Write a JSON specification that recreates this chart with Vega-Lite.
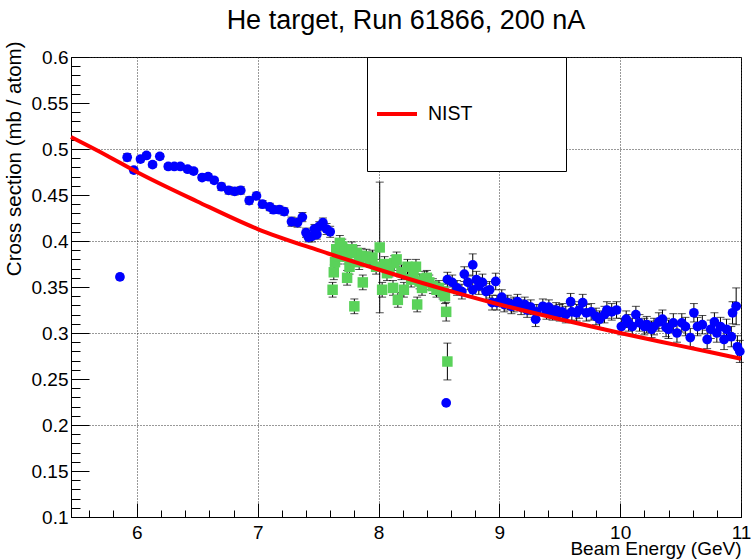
{
  "$schema": "https://vega.github.io/schema/vega-lite/v6.json",
  "width": 670,
  "height": 460,
  "autosize": {"type": "none"},
  "padding": {"left": 71, "top": 57, "right": 10, "bottom": 42},
  "background": "white",
  "config": {
    "font": "Liberation Sans",
    "view": {"stroke": "black", "strokeWidth": 1}
  },
  "title": {
    "text": "He target, Run 61866, 200 nA",
    "font": "Liberation Sans",
    "fontSize": 27,
    "fontWeight": "normal",
    "color": "black",
    "frame": "group",
    "anchor": "middle",
    "baseline": "alphabetic",
    "offset": 10,
    "dy": 25
  },
  "datasets": {
    "blue": [
      {"E": 5.86, "v": 0.361, "e": 0.003}, {"E": 5.92, "v": 0.491, "e": 0.004}, {"E": 5.975, "v": 0.477, "e": 0.003},
      {"E": 6.03, "v": 0.489, "e": 0.003}, {"E": 6.08, "v": 0.493, "e": 0.003}, {"E": 6.13, "v": 0.483, "e": 0.003},
      {"E": 6.19, "v": 0.492, "e": 0.003}, {"E": 6.26, "v": 0.481, "e": 0.003}, {"E": 6.31, "v": 0.481, "e": 0.003},
      {"E": 6.36, "v": 0.481, "e": 0.003}, {"E": 6.42, "v": 0.478, "e": 0.003}, {"E": 6.47, "v": 0.476, "e": 0.003},
      {"E": 6.54, "v": 0.469, "e": 0.003}, {"E": 6.59, "v": 0.470, "e": 0.003}, {"E": 6.64, "v": 0.466, "e": 0.003},
      {"E": 6.70, "v": 0.459, "e": 0.004}, {"E": 6.76, "v": 0.455, "e": 0.004}, {"E": 6.81, "v": 0.454, "e": 0.004},
      {"E": 6.86, "v": 0.455, "e": 0.004}, {"E": 6.93, "v": 0.444, "e": 0.004}, {"E": 6.99, "v": 0.449, "e": 0.004},
      {"E": 7.04, "v": 0.440, "e": 0.004}, {"E": 7.10, "v": 0.437, "e": 0.004}, {"E": 7.13, "v": 0.434, "e": 0.004},
      {"E": 7.18, "v": 0.434, "e": 0.004}, {"E": 7.22, "v": 0.432, "e": 0.004}, {"E": 7.28, "v": 0.421, "e": 0.005},
      {"E": 7.33, "v": 0.420, "e": 0.005}, {"E": 7.37, "v": 0.426, "e": 0.005}, {"E": 7.40, "v": 0.409, "e": 0.005},
      {"E": 7.42, "v": 0.404, "e": 0.005}, {"E": 7.45, "v": 0.405, "e": 0.006}, {"E": 7.47, "v": 0.413, "e": 0.005},
      {"E": 7.49, "v": 0.407, "e": 0.005}, {"E": 7.51, "v": 0.416, "e": 0.005}, {"E": 7.54, "v": 0.420, "e": 0.005},
      {"E": 7.57, "v": 0.413, "e": 0.006}, {"E": 7.60, "v": 0.410, "e": 0.006},
      {"E": 8.56, "v": 0.224, "e": 0.002},
      {"E": 8.57, "v": 0.358, "e": 0.008}, {"E": 8.61, "v": 0.355, "e": 0.008}, {"E": 8.65, "v": 0.349, "e": 0.008},
      {"E": 8.69, "v": 0.345, "e": 0.008}, {"E": 8.71, "v": 0.364, "e": 0.008}, {"E": 8.74, "v": 0.355, "e": 0.008},
      {"E": 8.78, "v": 0.374, "e": 0.012}, {"E": 8.78, "v": 0.347, "e": 0.008}, {"E": 8.81, "v": 0.358, "e": 0.009},
      {"E": 8.83, "v": 0.351, "e": 0.009}, {"E": 8.86, "v": 0.355, "e": 0.009}, {"E": 8.89, "v": 0.345, "e": 0.009},
      {"E": 8.92, "v": 0.347, "e": 0.009}, {"E": 8.94, "v": 0.333, "e": 0.008}, {"E": 8.97, "v": 0.356, "e": 0.009},
      {"E": 8.98, "v": 0.333, "e": 0.008}, {"E": 9.02, "v": 0.339, "e": 0.008}, {"E": 9.04, "v": 0.331, "e": 0.008},
      {"E": 9.07, "v": 0.333, "e": 0.008}, {"E": 9.10, "v": 0.329, "e": 0.008}, {"E": 9.12, "v": 0.331, "e": 0.008},
      {"E": 9.15, "v": 0.334, "e": 0.008}, {"E": 9.18, "v": 0.328, "e": 0.008}, {"E": 9.21, "v": 0.331, "e": 0.008},
      {"E": 9.23, "v": 0.325, "e": 0.008}, {"E": 9.26, "v": 0.328, "e": 0.008}, {"E": 9.30, "v": 0.315, "e": 0.008},
      {"E": 9.31, "v": 0.323, "e": 0.008}, {"E": 9.36, "v": 0.329, "e": 0.008}, {"E": 9.39, "v": 0.323, "e": 0.008},
      {"E": 9.41, "v": 0.328, "e": 0.008}, {"E": 9.44, "v": 0.322, "e": 0.008}, {"E": 9.47, "v": 0.325, "e": 0.008},
      {"E": 9.50, "v": 0.322, "e": 0.009}, {"E": 9.52, "v": 0.323, "e": 0.009}, {"E": 9.55, "v": 0.320, "e": 0.009},
      {"E": 9.59, "v": 0.334, "e": 0.009}, {"E": 9.60, "v": 0.323, "e": 0.009}, {"E": 9.64, "v": 0.322, "e": 0.009},
      {"E": 9.66, "v": 0.325, "e": 0.009}, {"E": 9.69, "v": 0.333, "e": 0.009}, {"E": 9.72, "v": 0.322, "e": 0.009},
      {"E": 9.76, "v": 0.323, "e": 0.009}, {"E": 9.80, "v": 0.318, "e": 0.009}, {"E": 9.83, "v": 0.315, "e": 0.009},
      {"E": 9.87, "v": 0.320, "e": 0.009}, {"E": 9.89, "v": 0.325, "e": 0.009}, {"E": 9.93, "v": 0.323, "e": 0.009},
      {"E": 9.97, "v": 0.325, "e": 0.009}, {"E": 10.01, "v": 0.307, "e": 0.009}, {"E": 10.05, "v": 0.315, "e": 0.009},
      {"E": 10.07, "v": 0.311, "e": 0.009}, {"E": 10.10, "v": 0.307, "e": 0.009}, {"E": 10.13, "v": 0.320, "e": 0.009},
      {"E": 10.16, "v": 0.311, "e": 0.009}, {"E": 10.20, "v": 0.307, "e": 0.009}, {"E": 10.22, "v": 0.309, "e": 0.009},
      {"E": 10.26, "v": 0.304, "e": 0.009}, {"E": 10.28, "v": 0.307, "e": 0.009}, {"E": 10.32, "v": 0.312, "e": 0.010},
      {"E": 10.35, "v": 0.315, "e": 0.010}, {"E": 10.38, "v": 0.306, "e": 0.010}, {"E": 10.40, "v": 0.304, "e": 0.010},
      {"E": 10.44, "v": 0.311, "e": 0.010}, {"E": 10.47, "v": 0.300, "e": 0.010}, {"E": 10.51, "v": 0.311, "e": 0.010},
      {"E": 10.54, "v": 0.307, "e": 0.010}, {"E": 10.58, "v": 0.295, "e": 0.010}, {"E": 10.61, "v": 0.322, "e": 0.010},
      {"E": 10.64, "v": 0.307, "e": 0.010}, {"E": 10.68, "v": 0.309, "e": 0.010}, {"E": 10.72, "v": 0.293, "e": 0.010},
      {"E": 10.75, "v": 0.304, "e": 0.010}, {"E": 10.78, "v": 0.312, "e": 0.010}, {"E": 10.80, "v": 0.300, "e": 0.010},
      {"E": 10.83, "v": 0.307, "e": 0.010}, {"E": 10.86, "v": 0.293, "e": 0.011}, {"E": 10.88, "v": 0.304, "e": 0.011},
      {"E": 10.92, "v": 0.296, "e": 0.011}, {"E": 10.93, "v": 0.322, "e": 0.012}, {"E": 10.96, "v": 0.329, "e": 0.020},
      {"E": 10.97, "v": 0.285, "e": 0.012}, {"E": 10.99, "v": 0.280, "e": 0.012}
    ],
    "green": [
      {"E": 7.62, "v": 0.347, "e": 0.008}, {"E": 7.63, "v": 0.366, "e": 0.008}, {"E": 7.64, "v": 0.377, "e": 0.008},
      {"E": 7.65, "v": 0.391, "e": 0.008}, {"E": 7.67, "v": 0.383, "e": 0.008}, {"E": 7.68, "v": 0.398, "e": 0.008},
      {"E": 7.70, "v": 0.394, "e": 0.008}, {"E": 7.72, "v": 0.388, "e": 0.008}, {"E": 7.74, "v": 0.383, "e": 0.008},
      {"E": 7.74, "v": 0.360, "e": 0.008}, {"E": 7.76, "v": 0.372, "e": 0.008}, {"E": 7.78, "v": 0.391, "e": 0.008},
      {"E": 7.80, "v": 0.329, "e": 0.008}, {"E": 7.82, "v": 0.387, "e": 0.008}, {"E": 7.84, "v": 0.377, "e": 0.008},
      {"E": 7.86, "v": 0.384, "e": 0.008}, {"E": 7.87, "v": 0.355, "e": 0.008}, {"E": 7.90, "v": 0.383, "e": 0.008},
      {"E": 7.93, "v": 0.380, "e": 0.008}, {"E": 7.95, "v": 0.382, "e": 0.008}, {"E": 7.98, "v": 0.372, "e": 0.008},
      {"E": 8.01, "v": 0.393, "e": 0.071}, {"E": 8.03, "v": 0.347, "e": 0.008}, {"E": 8.05, "v": 0.375, "e": 0.008},
      {"E": 8.07, "v": 0.365, "e": 0.008}, {"E": 8.09, "v": 0.369, "e": 0.008}, {"E": 8.12, "v": 0.349, "e": 0.008},
      {"E": 8.13, "v": 0.376, "e": 0.008}, {"E": 8.15, "v": 0.380, "e": 0.008}, {"E": 8.16, "v": 0.336, "e": 0.008},
      {"E": 8.19, "v": 0.366, "e": 0.008}, {"E": 8.21, "v": 0.347, "e": 0.008}, {"E": 8.24, "v": 0.372, "e": 0.008},
      {"E": 8.27, "v": 0.358, "e": 0.008}, {"E": 8.29, "v": 0.364, "e": 0.008}, {"E": 8.31, "v": 0.372, "e": 0.008},
      {"E": 8.32, "v": 0.331, "e": 0.008}, {"E": 8.34, "v": 0.356, "e": 0.008}, {"E": 8.36, "v": 0.349, "e": 0.008},
      {"E": 8.38, "v": 0.359, "e": 0.008}, {"E": 8.40, "v": 0.360, "e": 0.008}, {"E": 8.42, "v": 0.355, "e": 0.008},
      {"E": 8.45, "v": 0.351, "e": 0.008}, {"E": 8.48, "v": 0.347, "e": 0.008}, {"E": 8.50, "v": 0.349, "e": 0.008},
      {"E": 8.53, "v": 0.345, "e": 0.008}, {"E": 8.55, "v": 0.340, "e": 0.008}, {"E": 8.56, "v": 0.323, "e": 0.010},
      {"E": 8.57, "v": 0.269, "e": 0.020}
    ],
    "nist": [
      {"E": 5.455, "v": 0.513, "s": "NIST"}, {"E": 5.75, "v": 0.493, "s": "NIST"}, {"E": 6.0, "v": 0.475, "s": "NIST"},
      {"E": 6.5, "v": 0.443, "s": "NIST"}, {"E": 7.0, "v": 0.413, "s": "NIST"}, {"E": 7.5, "v": 0.390, "s": "NIST"},
      {"E": 8.0, "v": 0.369, "s": "NIST"}, {"E": 8.5, "v": 0.349, "s": "NIST"}, {"E": 9.0, "v": 0.331, "s": "NIST"},
      {"E": 9.5, "v": 0.315, "s": "NIST"}, {"E": 10.0, "v": 0.300, "s": "NIST"}, {"E": 10.5, "v": 0.286, "s": "NIST"},
      {"E": 11.0, "v": 0.272, "s": "NIST"}
    ]
  },
  "encoding": {
    "x": {
      "field": "E",
      "type": "quantitative",
      "scale": {"domain": [5.455, 11], "nice": false, "zero": false},
      "axis": {
        "title": "Beam Energy (GeV)",
        "values": [5.6, 5.8, 6, 6.2, 6.4, 6.6, 6.8, 7, 7.2, 7.4, 7.6, 7.8, 8, 8.2, 8.4, 8.6, 8.8, 9, 9.2, 9.4, 9.6, 9.8, 10, 10.2, 10.4, 10.6, 10.8, 11],
        "labelExpr": "abs(datum.value - round(datum.value)) < 0.001 ? format(round(datum.value), 'd') : ''",
        "tickSize": {"condition": {"test": "abs(datum.value - round(datum.value)) < 0.001", "value": -14}, "value": -7},
        "tickColor": "black",
        "tickWidth": 1,
        "grid": true,
        "gridColor": "#333333",
        "gridDash": [1, 2],
        "gridWidth": 1,
        "gridOpacity": {"condition": {"test": "abs(datum.value - round(datum.value)) < 0.001", "value": 1}, "value": 0},
        "domainColor": "black",
        "labelFont": "Liberation Sans",
        "labelFontSize": 19,
        "labelColor": "black",
        "labelPadding": 20,
        "labelFlush": false,
        "labelOverlap": false,
        "titleFont": "Liberation Sans",
        "titleFontSize": 19,
        "titleFontWeight": "normal",
        "titleColor": "black",
        "titleAnchor": "end",
        "titleAlign": "right",
        "titleBaseline": "alphabetic",
        "titleX": 670,
        "titleY": 37
      }
    },
    "y": {
      "field": "v",
      "type": "quantitative",
      "scale": {"domain": [0.1, 0.6], "nice": false, "zero": false},
      "axis": {
        "title": "Cross section (mb / atom)",
        "values": [0.1, 0.11, 0.12, 0.13, 0.14, 0.15, 0.16, 0.17, 0.18, 0.19, 0.2, 0.21, 0.22, 0.23, 0.24, 0.25, 0.26, 0.27, 0.28, 0.29, 0.3, 0.31, 0.32, 0.33, 0.34, 0.35, 0.36, 0.37, 0.38, 0.39, 0.4, 0.41, 0.42, 0.43, 0.44, 0.45, 0.46, 0.47, 0.48, 0.49, 0.5, 0.51, 0.52, 0.53, 0.54, 0.55, 0.56, 0.57, 0.58, 0.59, 0.6],
        "labelExpr": "abs(datum.value * 20 - round(datum.value * 20)) < 0.001 ? format(datum.value, '.2~f') : ''",
        "tickSize": {"condition": {"test": "abs(datum.value * 20 - round(datum.value * 20)) < 0.001", "value": -18}, "value": -9},
        "tickColor": "black",
        "tickWidth": 1,
        "grid": true,
        "gridColor": "#333333",
        "gridDash": [1, 2],
        "gridWidth": 1,
        "gridOpacity": {"condition": {"test": "abs(datum.value * 10 - round(datum.value * 10)) < 0.001", "value": 1}, "value": 0},
        "domainColor": "black",
        "labelFont": "Liberation Sans",
        "labelFontSize": 19,
        "labelColor": "black",
        "labelPadding": 21,
        "labelFlush": false,
        "labelOverlap": false,
        "titleFont": "Liberation Sans",
        "titleFontSize": 20.5,
        "titleFontWeight": "normal",
        "titleColor": "black",
        "titleAnchor": "end",
        "titleAlign": "right",
        "titleBaseline": "alphabetic",
        "titleAngle": -90,
        "titleX": -51,
        "titleY": -16
      }
    }
  },
  "layer": [
    {
      "data": {"name": "blue"},
      "mark": {"type": "errorbar", "color": "black", "thickness": 1, "ticks": {"size": 8}},
      "encoding": {"yError": {"field": "e"}}
    },
    {
      "data": {"name": "blue"},
      "mark": {"type": "point", "shape": "circle", "filled": true, "size": 95, "color": "#0000ff", "opacity": 1}
    },
    {
      "data": {"name": "green"},
      "mark": {"type": "errorbar", "color": "black", "thickness": 1, "ticks": {"size": 8}},
      "encoding": {"yError": {"field": "e"}}
    },
    {
      "data": {"name": "green"},
      "mark": {"type": "point", "shape": "square", "filled": true, "size": 110, "color": "#5ad25a", "opacity": 1}
    },
    {
      "data": {"name": "nist"},
      "mark": {"type": "line", "strokeWidth": 4, "interpolate": "monotone"},
      "encoding": {
        "color": {
          "field": "s",
          "type": "nominal",
          "scale": {"range": ["#ff0000"]},
          "legend": {
            "title": " ",
            "titleOrient": "right",
            "titlePadding": 86,
            "titleFontSize": 19,
            "orient": "none",
            "legendX": 296,
            "legendY": 0,
            "padding": 8,
            "clipHeight": 98,
            "fillColor": "white",
            "strokeColor": "black",
            "cornerRadius": 0,
            "symbolType": "stroke",
            "symbolSize": 1600,
            "symbolStrokeWidth": 4,
            "labelFont": "Liberation Sans",
            "labelFontSize": 19.5,
            "labelColor": "black",
            "labelOffset": 9,
            "labelLimit": 400
          }
        }
      }
    }
  ]
}
